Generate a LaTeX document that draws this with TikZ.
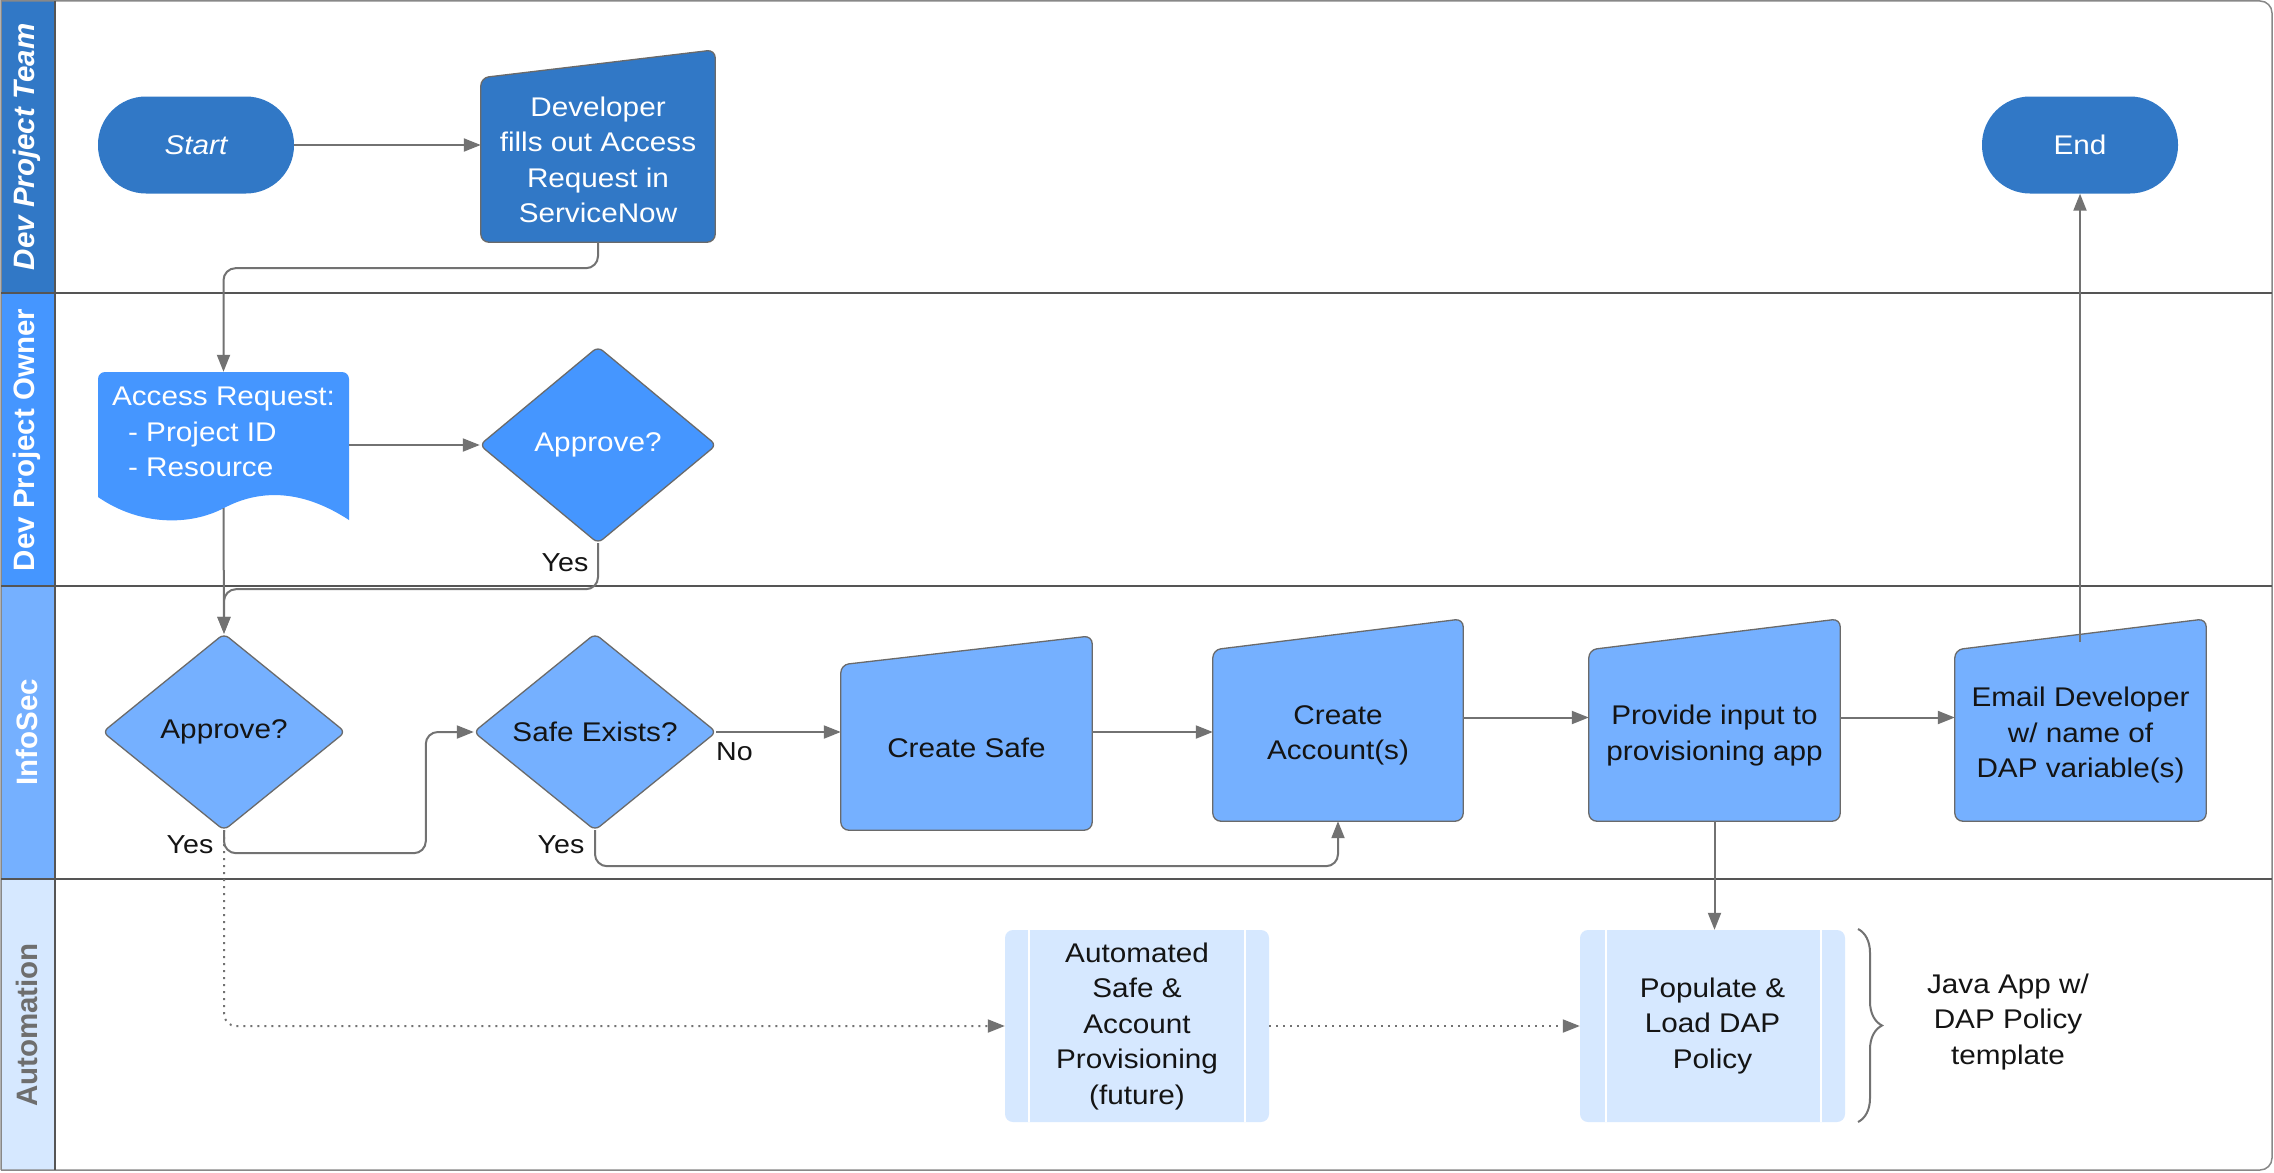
\documentclass[tikz,border=0pt]{standalone}
\usepackage{fontspec}
\setmainfont[FakeStretch=1.1]{Liberation Sans}
\newfontfamily\lanefont{Liberation Sans}
\usetikzlibrary{arrows.meta,calc,decorations.pathreplacing,backgrounds}
\definecolor{teamblue}{HTML}{3178C6}
\definecolor{ownerblue}{HTML}{4596FF}
\definecolor{secblue}{HTML}{75B0FF}
\definecolor{autoblue}{HTML}{D6E8FF}
\definecolor{conncol}{HTML}{727272}
\definecolor{lanecol}{HTML}{555555}
\definecolor{autotext}{HTML}{6E6E6E}
\definecolor{txtblack}{HTML}{141414}
\definecolor{shapeedge}{HTML}{6A6A6A}
\begin{document}
\begin{tikzpicture}[x=1pt,y=-1pt,
  every node/.style={font=\fontsize{27}{35.5}\selectfont, inner sep=0pt, align=center, text=txtblack},
  termnode/.style={fill=teamblue, text=white, minimum width=196pt, minimum height=97pt, rounded corners=48pt},
  frame/.style={rectangle, draw=none},
  predef/.style={fill=autoblue, rounded corners=8pt, minimum width=264pt, minimum height=192pt},
  shapeline/.style={draw=shapeedge, line width=1.3pt, rounded corners=8pt},
  conn/.style={draw=conncol, line width=2pt, rounded corners=12pt, -{Triangle[length=17pt,width=13pt]}},
  dotconn/.style={conn, dash pattern=on 2pt off 5pt},
  lanetext/.style={font=\lanefont\bfseries\fontsize{29.5}{32}\selectfont, rotate=90, text=white},
  lbl/.style={font=\fontsize{26}{35.5}\selectfont, text=txtblack}
]
\useasboundingbox (0,0) rectangle (2274,1172);

% ---------- nodes ----------
\node[termnode] (start) at (196,145) {\itshape Start};
\node[termnode] (end) at (2080,145) {End};
\node[frame, text=white, minimum width=234pt, minimum height=164pt] (dev) at (598,160)
  {Developer\\fills out Access\\Request in\\ServiceNow};
\node[frame, text=white, minimum width=251pt, minimum height=120pt, align=left] (doc) at (223.5,432)
  {Access Request:\\\hspace*{16pt}- Project ID\\\hspace*{16pt}- Resource};
\node[frame, text=white, minimum width=236pt, minimum height=196pt] (aprO) at (598,445) {Approve?};
\node[frame, minimum width=242pt, minimum height=196pt] (aprI) at (224,732) {Approve?};
\node[frame, minimum width=242pt, minimum height=196pt] (safe) at (595,732) {Safe Exists?};
\node[frame, minimum width=251pt, minimum height=165pt] (csafe) at (966.5,747.5) {Create Safe};
\node[frame, minimum width=250pt, minimum height=171pt] (cacc) at (1338,735.5) {Create\\Account(s)};
\node[frame, minimum width=251pt, minimum height=171pt] (prov) at (1714.5,735.5) {Provide input to\\provisioning app};
\node[frame, minimum width=251pt, minimum height=171pt] (email) at (2080.5,735.5) {Email Developer\\w/ name of\\DAP variable(s)};
\node[predef] (auto) at (1137,1026) {Automated\\Safe \&\\Account\\Provisioning\\(future)};
\node[predef, minimum width=265pt] (pop) at (1712.5,1026) {Populate \&\\Load DAP\\Policy};
\node[font=\fontsize{27}{35.5}\selectfont] (java) at (2008,1022) {Java App w/\\DAP Policy\\template};

% lane titles
\node[lanetext, font=\lanefont\bfseries\itshape\fontsize{29.5}{32}\selectfont] (lt1) at (27,147) {Dev Project Team};
\node[lanetext] (lt2) at (27,440) {Dev Project Owner};
\node[lanetext] (lt3) at (27,732) {InfoSec};
\node[lanetext, text=autotext] (lt4) at (27,1025) {Automation};

% ---------- background: lanes and shapes ----------
\begin{scope}[on background layer]
  \fill[white] (0,0) rectangle (2274,1172);
  \fill[teamblue] (1,1) rectangle (55,293);
  \fill[ownerblue] (1,293) rectangle (55,586);
  \fill[secblue] (1,586) rectangle (55,879);
  \fill[autoblue] (1,879) rectangle (55,1170);
  \draw[lanecol!70, line width=1.5pt] (1,1170) -- (1,1) -- (2000,1) [rounded corners=12pt] -- (2272,1) -- (2272,1170) -- (2000,1170) [sharp corners] -- (1,1170);
  \draw[lanecol, line width=1.6pt] (55,1) -- (55,1170);
  \draw[lanecol, line width=2pt] (1,293) -- (2272,293);
  \draw[lanecol, line width=2pt] (1,586) -- (2272,586);
  \draw[lanecol, line width=2pt] (1,879) -- (2272,879);

  % manual input shapes
  \path[fill=teamblue, shapeline] (dev.south) -- (dev.south west) -- (dev.north west) -- ([yshift=28pt]dev.north east) -- (dev.south east) -- cycle;
  \path[fill=secblue, shapeline] (csafe.south) -- (csafe.south west) -- (csafe.north west) -- ([yshift=29pt]csafe.north east) -- (csafe.south east) -- cycle;
  \path[fill=secblue, shapeline] (cacc.south) -- (cacc.south west) -- (cacc.north west) -- ([yshift=31pt]cacc.north east) -- (cacc.south east) -- cycle;
  \path[fill=secblue, shapeline] (prov.south) -- (prov.south west) -- (prov.north west) -- ([yshift=31pt]prov.north east) -- (prov.south east) -- cycle;
  \path[fill=secblue, shapeline] (email.south) -- (email.south west) -- (email.north west) -- ([yshift=31pt]email.north east) -- (email.south east) -- cycle;

  % diamonds
  \path[fill=ownerblue, shapeline, rounded corners=6pt] ($(aprO.south)!0.5!(aprO.east)$) -- (aprO.east) -- (aprO.north) -- (aprO.west) -- (aprO.south) -- cycle;
  \path[fill=secblue, shapeline, rounded corners=6pt] ($(aprI.south)!0.5!(aprI.east)$) -- (aprI.east) -- (aprI.north) -- (aprI.west) -- (aprI.south) -- cycle;
  \path[fill=secblue, shapeline, rounded corners=6pt] ($(safe.south)!0.5!(safe.east)$) -- (safe.east) -- (safe.north) -- (safe.west) -- (safe.south) -- cycle;

  % document
  \path[fill=ownerblue, rounded corners=7pt] (98,497) -- (98,372) -- (349,372) [sharp corners] -- (349,520)
    .. controls (300,488) and (258,490) .. (224,508)
    .. controls (190,526) and (140,526) .. (98,497) -- cycle;
\end{scope}

% predefined-process inner bars
\draw[white, line width=2pt] ([xshift=24pt]auto.north west) -- ([xshift=24pt]auto.south west);
\draw[white, line width=2pt] ([xshift=-24pt]auto.north east) -- ([xshift=-24pt]auto.south east);
\draw[white, line width=2pt] ([xshift=26pt]pop.north west) -- ([xshift=26pt]pop.south west);
\draw[white, line width=2pt] ([xshift=-24pt]pop.north east) -- ([xshift=-24pt]pop.south east);

% ---------- connectors ----------
\draw[conn] (start.east) -- (start.east -| dev.west);
\draw[conn] (dev.south) -- ++(0,26) -| (doc.north);
\draw[conn] (doc.east |- aprO.west) -- (aprO.west);
\draw[conn] ($(doc.south)+(0,16)$) -- (aprI.north);
\draw[conn] (aprO.south) -- ++(0,46) -| (aprI.north);
\draw[conn] (aprI.south) -- ++(0,23) -| ([xshift=-48pt]safe.west) -- (safe.west);
\draw[dotconn] (aprI.south) |- (auto.west);
\draw[dotconn] (auto.east) -- (pop.west);
\draw[conn] (safe.east) -- (csafe.west |- safe.east);
\draw[conn] (safe.south) -- ++(0,36) -| (cacc.south);
\draw[conn] (csafe.east |- safe.east) -- (cacc.west |- safe.east);
\draw[conn] ([yshift=18pt]cacc.east) -- ([yshift=18pt]prov.west);
\draw[conn] ([yshift=18pt]prov.east) -- ([yshift=18pt]email.west);
\draw[conn] (prov.south) -- (prov.south |- pop.north);
\draw[conn] ($(end.south |- email.north)+(0,-8)$) -- (end.south);

% brace
\draw[conncol, line width=2pt, decorate, decoration={brace, amplitude=24pt, aspect=0.5}] (1858,929) -- (1858,1122);

% labels
\node[lbl] (yes1) at (565,563) {Yes};
\node[lbl] (yes2) at (190,845) {Yes};
\node[lbl] (yes3) at (561,845) {Yes};
\node[lbl, anchor=west] (nolbl) at (716,752) {No};
\end{tikzpicture}
\end{document}
